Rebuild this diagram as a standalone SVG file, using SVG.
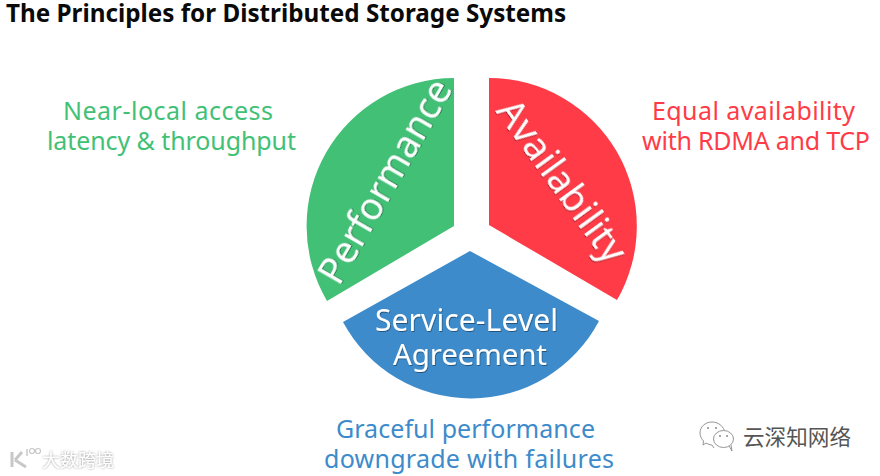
<svg xmlns="http://www.w3.org/2000/svg" width="880" height="476" viewBox="0 0 880 476">
<defs>
<filter id="ts" x="-10%" y="-20%" width="120%" height="150%"><feDropShadow dx="0.7" dy="1" stdDeviation="0.6" flood-color="#000" flood-opacity="0.4"/></filter>
<filter id="wm" x="-10%" y="-20%" width="120%" height="140%"><feDropShadow dx="0" dy="0" stdDeviation="1" flood-color="#777" flood-opacity="0.8"/></filter>
</defs>
<style>
text{font-family:"Noto Sans","Open Sans",sans-serif}
.d{font-size:25px}
.w{fill:#fff;filter:url(#ts)}
.g{fill:#42c176}.r{fill:#ff3b47}.b{fill:#3d8bcb}
.cjk{font-family:"Noto Sans CJK SC",sans-serif}
</style>
<rect width="880" height="476" fill="#fff"/>
<text x="6" y="22" font-size="24.25" font-weight="700" fill="#0a0a0a">The Principles for Distributed Storage Systems</text>
<g id="performance">
<path class="g" d="M454 78A148 148 0 0 0 327 301L454 226Z"/>
<text class="w" font-size="37.5" transform="translate(339 287) rotate(-60)">Performance</text>
</g>
<g id="availability">
<path class="r" d="M489 78A148 148 0 0 1 617 300L489 225Z"/>
<text class="w" font-size="38" transform="translate(495 111) rotate(54)">Availability</text>
</g>
<g id="sla">
<path class="b" d="M470 251L343 322A145 145 0 0 0 599 321Z"/>
<text class="w" font-size="30" x="375" y="331" textLength="183">Service-Level</text>
<text class="w" font-size="29.5" x="393" y="365" textLength="154">Agreement</text>
</g>
<g id="performance-note">
<text class="d g" x="63" y="120" textLength="210">Near-local access</text>
<text class="d g" x="47" y="150" textLength="249">latency &amp; throughput</text>
</g>
<g id="availability-note">
<text class="d r" x="652" y="120" textLength="203">Equal availability</text>
<text class="d r" x="642" y="150" textLength="228">with RDMA and TCP</text>
</g>
<g id="sla-note">
<text class="d b" x="336" y="438" textLength="259">Graceful performance</text>
<text class="d b" x="324" y="468" textLength="290">downgrade with failures</text>
</g>
<g id="connectors"/>
<g id="watermark-left">
<g fill="none" stroke="#c8c8c8">
<path d="M12 452V467M15 460L22 452M15 460L26 467" stroke-width="3"/>
<path d="M27 449V456" stroke-width="1.5"/>
<circle cx="32" cy="451" r="2.5" stroke-width="1.2"/><circle cx="38" cy="451" r="2.5" stroke-width="1.2"/>
</g>
<text class="cjk" x="42" y="467" font-size="18" fill="#fff" filter="url(#wm)">大数跨境</text>
</g>
<g id="watermark-right">
<g fill="#fff" stroke="#8a8a8a" stroke-width="0.9">
<path d="M714 448l-2 -3c-2 0 -4 -1 -6 -2l-3 2l0.5 -4c-2 -2 -3.500 -5 -3.500 -8c0 -6 5 -11 12 -11s12 5 13 11"/>
<ellipse cx="723.500" cy="439" rx="10" ry="8.500"/>
<path d="M729 446l3 5l-1 -6" />
</g>
<g fill="#8a8a8a"><circle cx="708" cy="428" r="1"/><circle cx="716" cy="428" r="1"/><circle cx="720" cy="436" r="1"/><circle cx="727" cy="436" r="1"/></g>
<text class="cjk" x="743" y="445" font-size="21.6" fill="#555">云深知网络</text>
</g>
</svg>
